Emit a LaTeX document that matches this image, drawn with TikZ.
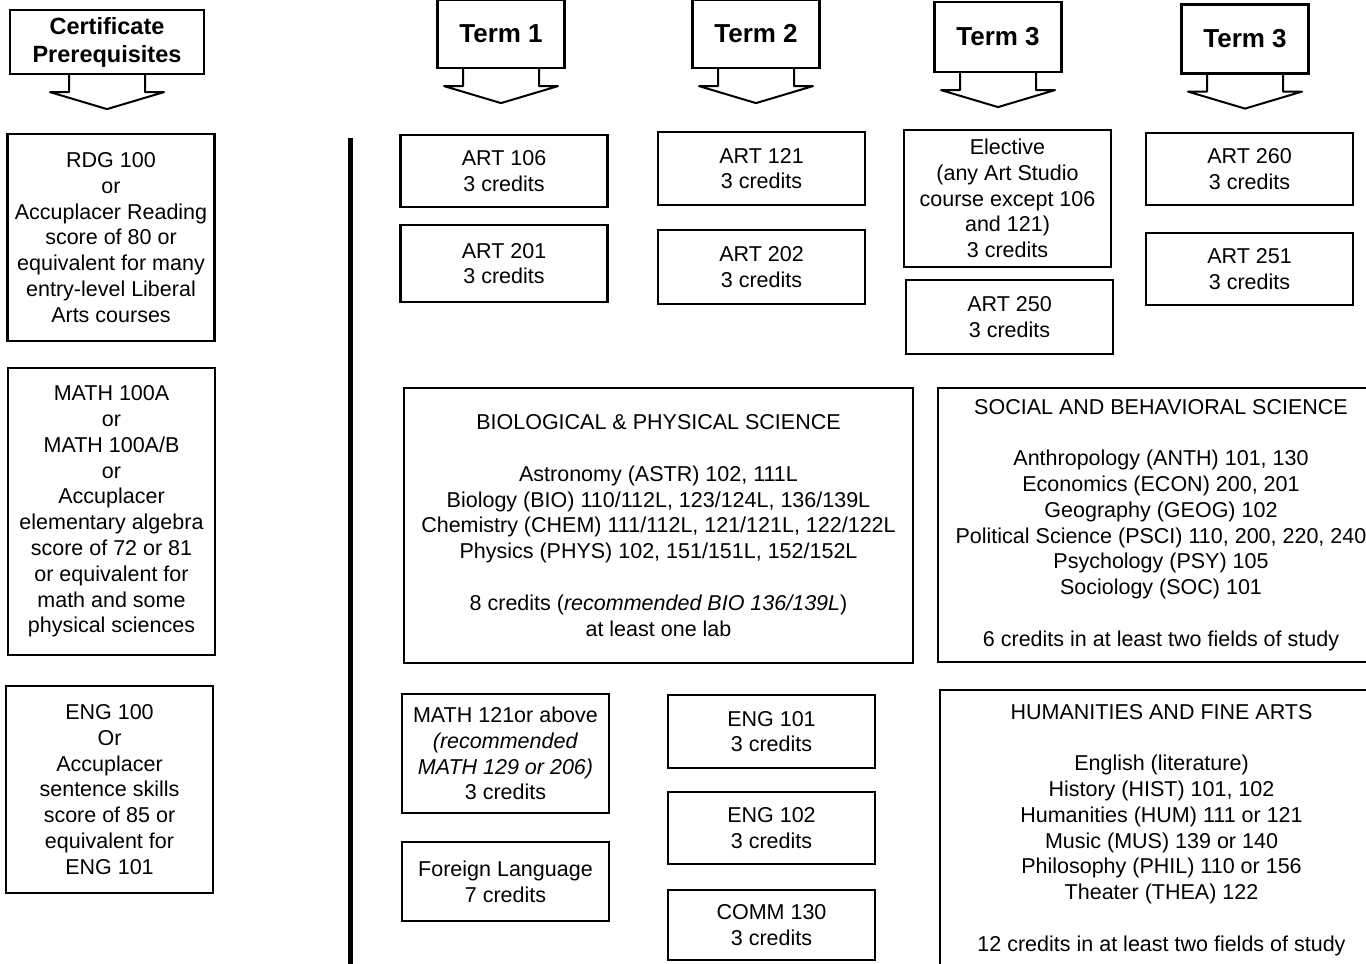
\documentclass[tikz,border=0pt]{standalone}
\usepackage{fontspec}
\setmainfont{Liberation Sans}
\newcommand{\termarrow}[1]{%
  \draw[arrowline] ([shift={(-38,0)}]#1.south) -- ++(0,17) -- ++(-19,0)
    -- ([shift={(0,34)}]#1.south) -- ([shift={(57,17)}]#1.south) -- ++(-19,0)
    -- ([shift={(38,0)}]#1.south);}
\begin{document}
\begin{tikzpicture}[x=1pt,y=-1pt,
  every node/.style={font=\fontsize{21.5}{25.8}\selectfont,align=center,inner sep=0pt},
  box/.style={draw,line width=2.2pt,minimum width=#1},
  box/.default=207pt,
  head/.style={draw,line width=2.2pt,font=\fontsize{23.5}{28}\selectfont\bfseries},
  term/.style={draw,line width=2.2pt,minimum width=127pt,font=\fontsize{26}{28}\selectfont\bfseries},
  arrowline/.style={line width=2pt,line join=round}]
  \useasboundingbox (0,0) rectangle (1366,964);
  % headers
  \node[head,minimum width=194pt,minimum height=64pt] (cert) at (107,42) {Certificate\\Prerequisites};
  \node[term,minimum height=68pt] (t1) at (501,34) {Term 1};
  \node[term,minimum height=68pt] (t2) at (756,34) {Term 2};
  \node[term,minimum height=70pt] (t3) at (998,37) {Term 3};
  \node[term,minimum height=69pt] (t4) at (1245,39) {Term 3};
  \termarrow{cert}
  \termarrow{t1}
  \termarrow{t2}
  \termarrow{t3}
  \termarrow{t4}
  % prerequisites
  \node[box,minimum height=207pt] (rdg) at (111,237.5) {RDG 100\\or\\Accuplacer Reading\\score of 80 or\\equivalent for many\\entry-level Liberal\\Arts courses};
  \node[box,minimum height=287pt] (math) at (111.5,511.5) {MATH 100A\\or\\MATH 100A/B\\or\\Accuplacer\\elementary algebra\\score of 72 or 81\\or equivalent for\\math and some\\physical sciences};
  \node[box,minimum height=207pt] (eng) at (109.5,789.5) {ENG 100\\Or\\Accuplacer\\sentence skills\\score of 85 or\\equivalent for\\ENG 101};
  % divider
  \coordinate (divtop) at (350,138);
  \coordinate (divbot) at (350,966);
  \draw[line width=5pt] (divtop) -- (divbot);
  % art courses
  \node[box,minimum height=72pt] (art106) at (504,171) {ART 106\\3 credits};
  \node[box,minimum height=77pt] (art201) at (504,263.5) {ART 201\\3 credits};
  \node[box,minimum height=73pt] (art121) at (761.5,168.5) {ART 121\\3 credits};
  \node[box,minimum height=74pt] (art202) at (761.5,267) {ART 202\\3 credits};
  \node[box,minimum height=137pt] (elective) at (1007.5,198.5) {Elective\\(any Art Studio\\course except 106\\and 121)\\3 credits};
  \node[box,minimum height=74pt] (art250) at (1009.5,317) {ART 250\\3 credits};
  \node[box,minimum height=72pt] (art260) at (1249.5,169) {ART 260\\3 credits};
  \node[box,minimum height=72pt] (art251) at (1249.5,269) {ART 251\\3 credits};
  % general education
  \node[box=509pt,minimum height=275pt] (bio) at (658.5,525.5) {BIOLOGICAL \& PHYSICAL SCIENCE\\[25.8pt]
    Astronomy (ASTR) 102, 111L\\Biology (BIO) 110/112L, 123/124L, 136/139L\\
    Chemistry (CHEM) 111/112L, 121/121L, 122/122L\\Physics (PHYS) 102, 151/151L, 152/152L\\[25.8pt]
    8 credits (\textit{recommended BIO 136/139L})\\at least one lab};
  \node[box=446pt,minimum height=274pt] (sbs) at (1161,525) {SOCIAL AND BEHAVIORAL SCIENCE\\[25.8pt]
    Anthropology (ANTH) 101, 130\\Economics (ECON) 200, 201\\Geography (GEOG) 102\\
    Political Science (PSCI) 110, 200, 220, 240\\Psychology (PSY) 105\\Sociology (SOC) 101\\[25.8pt]
    6 credits in at least two fields of study};
  \node[box,minimum height=119pt] (math121) at (505.5,753.5) {MATH 121or above\\\textit{(recommended}\\\textit{MATH 129 or 206)}\\3 credits};
  \node[box,minimum height=79pt] (forlang) at (505.5,881.5) {Foreign Language\\7 credits};
  \node[box,minimum height=73pt] (eng101) at (771.5,731.5) {ENG 101\\3 credits};
  \node[box,minimum height=72pt] (eng102) at (771.5,828) {ENG 102\\3 credits};
  \node[box,minimum height=70pt] (comm130) at (771.5,925) {COMM 130\\3 credits};
  \node[box=443pt,minimum height=280pt] (hum) at (1161.5,830) {HUMANITIES AND FINE ARTS\\[25.8pt]
    English (literature)\\History (HIST) 101, 102\\Humanities (HUM) 111 or 121\\
    Music (MUS) 139 or 140\\Philosophy (PHIL) 110 or 156\\Theater (THEA) 122\\[25.8pt]
    12 credits in at least two fields of study};
\end{tikzpicture}
\end{document}
